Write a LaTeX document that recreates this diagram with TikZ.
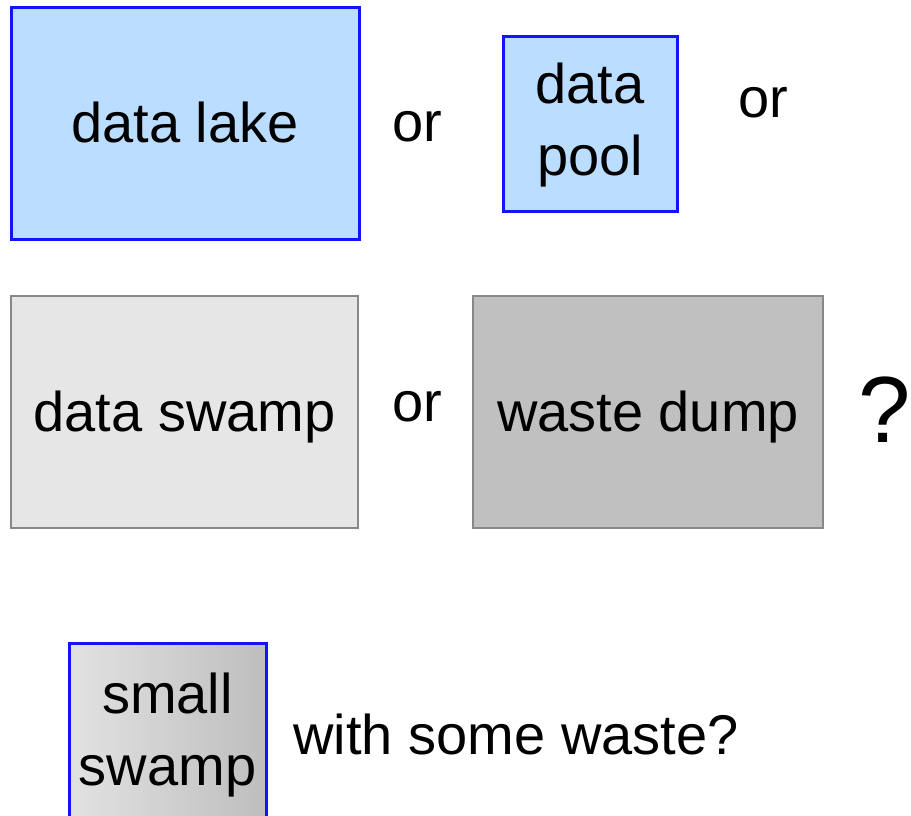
\documentclass[tikz,border=0pt]{standalone}
\usepackage{fontspec}
\setmainfont{Liberation Sans}
\definecolor{lakefill}{RGB}{187,221,255}
\definecolor{lakeedge}{RGB}{20,20,250}
\definecolor{swampfill}{RGB}{230,230,230}
\definecolor{dumpfill}{RGB}{192,192,192}
\definecolor{greyedge}{RGB}{136,136,136}
\definecolor{gradleft}{RGB}{226,226,226}
\definecolor{gradright}{RGB}{190,190,190}
\tikzset{
  bigtext/.style={font=\fontsize{56}{72}\selectfont},
  boxbase/.style={bigtext, rectangle, inner sep=0pt, outer sep=0pt,
    align=center, text height=40pt, text depth=2pt},
  bluebox/.style={boxbase, draw=lakeedge, line width=3pt, fill=lakefill},
  greybox/.style={boxbase, draw=greyedge, line width=2pt},
  twoline/.style={text height=105pt, text depth=2pt},
  plainword/.style={bigtext, inner sep=0pt, anchor=base},
}
\begin{document}
\begin{tikzpicture}[x=1pt, y=-1pt]
  \useasboundingbox (0,0) rectangle (911,815);
  \clip (0,0) rectangle (911,815);

  % first row
  \node[bluebox, minimum width=348pt, minimum height=232pt] (lake) at (185,123.5) {data lake};
  \node[plainword] (or1) at (417,141) {or};
  \node[bluebox, twoline, minimum width=174pt, minimum height=175pt] (pool) at (590,123.5) {data\\pool};
  \node[plainword] (or2) at (763.5,117) {or};

  % second row
  \node[greybox, fill=swampfill, minimum width=347pt, minimum height=232pt] (swamp) at (184.5,412) {data swamp};
  \node[plainword] (or3) at (417,421) {or};
  \node[greybox, fill=dumpfill, minimum width=350pt, minimum height=232pt] (dump) at (648,412) {waste dump};
  \node[inner sep=0pt, anchor=base, font=\fontsize{94}{110}\selectfont] (ask) at (885,442) {?};

  % third row (box runs past the lower edge)
  \node[bluebox, twoline, left color=gradleft, right color=gradright,
        minimum width=197pt, minimum height=181pt] (small) at (167.5,733.5) {small\\swamp};
  \node[plainword] (waste) at (516,754) {with some waste?};
\end{tikzpicture}
\end{document}
